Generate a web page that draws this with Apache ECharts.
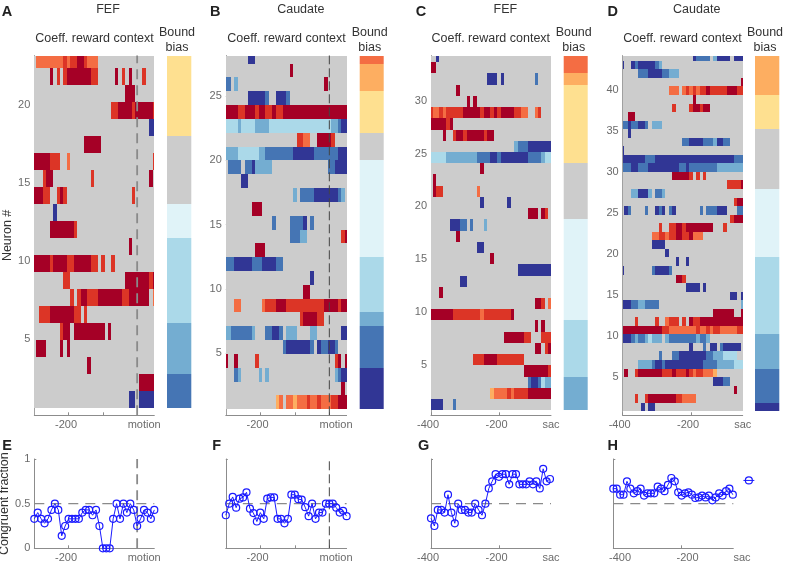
<!DOCTYPE html>
<html><head><meta charset="utf-8">
<style>html,body{margin:0;padding:0;background:#fff}#c{width:785px;height:565px}</style>
<script src="https://cdn.jsdelivr.net/npm/echarts@6/dist/echarts.min.js"></script>
</head><body><div id="c"></div>
<script>
const B1=0,B2=1,B3=2,B4=3,B5=4,G=5,Y1=6,Y2=7,R1=8,R2=9,R3=10;
const palette=['#313695','#4575b4','#74add1','#abd9e9','#e0f3f8','#cccccc','#fee090','#fdae61','#f46d43','#dc3526','#a50026'];

// each list item = one neuron row (bottom row first): [startMs, endMs, colourClass]
const rowsA=[
[[-25,-5,B1],[5,50,B1]],
[[5,50,R3]],
[[-145,-135,R3]],
[[-295,-265,R3],[-225,-215,R3],[-205,-195,R3]],
[[-225,-215,R2],[-215,-195,R3],[-185,-95,R3],[-85,-75,R3]],
[[-285,-255,R2],[-255,-185,R3],[-185,-165,R2],[-155,-145,R2]],
[[-195,-185,R2],[-175,-165,R2],[-165,-145,R3],[-145,-115,R2],[-115,-45,R3],[-45,-25,R2],[-25,35,R3],[45,50,R1]],
[[-215,-195,R2],[-35,35,R3],[35,45,R2],[45,50,R3]],
[[-300,-255,R3],[-255,-245,R2],[-245,-205,R3],[-205,-185,R2],[-185,-135,R3],[-135,-115,R2],[-105,-95,R2],[-75,-65,R2]],
[[-25,-15,R3]],
[[-255,-185,R3],[-185,-175,R2]],
[[-245,-235,B1]],
[[-300,-275,R3],[-275,-255,R2],[-235,-225,R2],[-225,-215,R3],[-215,-205,R2],[-15,-5,R2]],
[[-275,-265,R2],[-265,-245,R3],[-135,-125,R2],[35,45,R3]],
[[-300,-255,R3],[-255,-225,R2],[-205,-195,R1],[45,50,R2]],
[[-155,-105,R3]],
[[35,50,B1]],
[[-75,-55,R2],[-55,-15,R3],[-15,-5,R2],[-5,45,R3],[45,50,R2]],
[[-35,-5,R3]],
[[-255,-245,R3],[-235,-225,R2],[-215,-205,R2],[-205,-135,R3],[-135,-115,R2],[-65,-55,R3],[-45,-35,R2],[-25,-15,R3],[15,25,R2]],
[[-295,-215,R1],[-215,-205,R2],[-205,-195,R1],[-195,-175,R2],[-175,-155,R3],[-155,-145,R2],[-145,-115,R1]]
];
const rowsB=[
[[-155,-145,Y2],[-145,-135,R1],[-125,-105,R1],[-105,-95,Y2],[-95,-65,R1],[-65,-55,R2],[-55,-35,R1],[-35,-25,R2],[-25,5,R1],[5,25,R2],[25,50,R3]],
[[35,45,R3]],
[[-275,-265,B2],[-265,-255,B3],[-205,-195,B3],[-185,-175,B3],[15,25,B3],[25,35,B2],[35,50,B1]],
[[-300,-295,R3],[-275,-265,R3],[-215,-205,R2],[15,25,R2],[25,35,R3],[45,50,R3]],
[[-135,-125,B2],[-125,-55,B1],[-55,-45,B2],[-35,-25,B1],[-25,-5,B2],[-5,15,B1],[15,25,B2]],
[[-300,-285,B3],[-285,-225,B2],[-225,-215,B3],[-185,-165,B2],[-165,-145,B1],[-145,-135,B2],[-125,-95,B3],[-55,-35,B3],[35,50,B1]],
[[-85,-75,R2],[-75,-35,R3],[-35,-15,R2]],
[[-275,-255,R1],[-195,-185,R1],[-185,-155,R2],[-155,-125,R3],[-125,-15,R2],[-15,25,R3],[25,35,R2],[35,50,R3]],
[[-75,-55,R3]],
[[-55,-45,B1]],
[[-300,-275,B2],[-275,-225,B1],[-225,-195,B2],[-195,-155,B1],[-155,-135,B2]],
[[-215,-185,R3]],
[[-115,-85,B2],[-85,-65,B3],[35,45,R2],[45,50,R3]],
[[-165,-155,B2],[-115,-75,B2],[-75,-65,B1],[-55,-45,B2]],
[[-225,-195,R3]],
[[-105,-95,B3],[-85,-45,B2],[-45,25,B1],[25,35,B2],[35,45,B3]],
[[-255,-235,B1]],
[[-295,-255,B2],[-245,-225,B2],[-225,-215,B1],[-215,-165,B3],[-5,15,B2],[15,50,B1]],
[[-300,-265,B3],[-265,-205,B4],[-205,-185,B3],[-185,-105,B2],[-105,-45,B1],[-45,25,B2],[25,50,B1]],
[[-95,-75,R2],[-75,-55,R1],[-35,5,R3],[5,15,R2]],
[[-300,-265,B4],[-265,-255,B3],[-255,-215,B4],[-215,-175,B3],[-175,5,B4],[5,25,B3],[25,35,B2],[35,50,B1]],
[[-300,-265,R3],[-265,-245,R2],[-245,-215,R3],[-215,-205,R2],[-205,-185,R3],[-185,-165,R2],[-165,-155,R3],[-155,-135,R2],[-135,50,R3]],
[[-235,-185,B1],[-185,-175,B2],[-155,-125,B1],[-125,-115,B2]],
[[-300,-285,B2],[-275,-265,B3],[-15,-5,R3]],
[[-115,-105,R3]],
[[-235,-215,B1]]
];
const rowsC=[
[[-400,-365,B1],[-335,-325,B2]],
[[-225,-215,Y2],[-215,-175,R1],[-175,-165,R2],[-165,-155,R1],[-155,-115,R2],[-115,-47,R3]],
[[-115,-105,B2],[-105,-85,B1],[-85,-75,B2],[-75,-65,B4],[-65,-47,B3]],
[[-125,-55,R3],[-55,-47,R2]],
[[-275,-245,R2],[-245,-205,R3],[-205,-125,R2]],
[[-95,-75,R3],[-65,-55,R2],[-55,-47,R3]],
[[-185,-125,R3],[-125,-105,R2],[-75,-47,R2]],
[[-95,-85,R3],[-75,-65,R3]],
[[-400,-335,R3],[-335,-255,R2],[-255,-245,R1],[-245,-165,R2],[-165,-155,R3]],
[[-95,-75,R3],[-75,-65,R2],[-55,-47,R1]],
[[-375,-365,R3]],
[[-315,-295,B1]],
[[-145,-47,B1]],
[[-225,-215,R3]],
[[-265,-245,B1]],
[[-325,-315,R3]],
[[-345,-315,B1],[-315,-295,B2],[-285,-275,B2],[-245,-235,B3]],
[[-115,-85,R3],[-75,-65,R3],[-65,-55,R2]],
[[-255,-245,B1],[-175,-165,B1]],
[[-395,-385,R3],[-385,-365,R2],[-265,-255,R1]],
[[-395,-385,R3]],
[[-255,-245,R3]],
[[-400,-355,B4],[-355,-265,B3],[-265,-225,B2],[-225,-205,B1],[-205,-195,B2],[-195,-115,B1],[-115,-75,B2],[-75,-65,B3],[-65,-47,B4]],
[[-155,-145,B3],[-145,-115,B2],[-115,-47,B1]],
[[-365,-355,R3],[-335,-325,R2],[-325,-305,R3],[-305,-295,R2],[-295,-245,R3],[-245,-235,R2],[-235,-215,R3]],
[[-400,-355,R3],[-355,-345,R2],[-345,-335,R3]],
[[-400,-395,R2],[-395,-375,R1],[-375,-365,R2],[-365,-355,R1],[-355,-305,R2],[-305,-255,R3],[-255,-245,R2],[-245,-225,R3],[-225,-215,R2],[-215,-205,R3],[-205,-195,R2],[-195,-155,R3],[-155,-135,R2],[-135,-115,R1],[-95,-85,R1],[-85,-75,R2]],
[[-295,-285,R3],[-275,-265,R3]],
[[-325,-315,R3]],
[[-235,-205,B1],[-195,-185,B1],[-95,-85,B2]],
[[-400,-385,R3]],
[[-385,-375,B1]]
];
const rowsD=[
[[-345,-335,B1],[-325,-305,B1]],
[[-365,-355,R2],[-335,-325,R2],[-325,-245,R3],[-245,-225,R2],[-225,-185,R1]],
[[-75,-65,R3]],
[[-135,-105,B1],[-105,-85,B2]],
[[-395,-385,R3],[-365,-355,R2],[-355,-285,R3],[-285,-255,R2],[-255,-245,R3],[-245,-215,R2],[-215,-205,R3],[-205,-195,R2],[-195,-185,R1],[-185,-165,R2],[-165,-135,R1],[-135,-125,Y2]],
[[-355,-315,B3],[-315,-305,B2],[-305,-285,B1],[-285,-275,B2],[-275,-165,B1],[-165,-125,B2],[-125,-75,B3],[-75,-45,B4]],
[[-295,-285,B2],[-255,-235,B2],[-235,-155,B1],[-155,-135,B2],[-135,-105,B3],[-105,-65,B4]],
[[-205,-195,B1],[-165,-155,B2],[-145,-125,B1],[-115,-105,B2],[-105,-55,B1]],
[[-405,-375,B1],[-375,-365,B2],[-365,-355,B3],[-355,-335,B2],[-335,-325,B3],[-325,-315,B4],[-315,-285,B3],[-275,-265,B3],[-265,-185,B2],[-185,-175,B3],[-175,-155,B2],[-155,-145,B3]],
[[-405,-285,R3],[-285,-265,R2],[-265,-185,R1],[-185,-175,R2],[-175,-155,R1],[-155,-145,R2],[-145,-135,R1],[-135,-115,R2],[-115,-65,R1],[-65,-45,R2]],
[[-365,-355,R2],[-305,-295,R2],[-275,-265,R1],[-265,-235,R2],[-225,-215,R2],[-205,-195,R3],[-195,-175,R2],[-175,-45,R3]],
[[-135,-75,R3],[-55,-45,R3]],
[[-405,-375,B1],[-375,-355,B2],[-355,-335,B3],[-335,-295,B2],[-55,-45,B3]],
[[-85,-65,B1],[-55,-45,B1]],
[[-215,-175,B1],[-165,-155,B1]],
[[-245,-225,R3],[-225,-215,R2]],
[[-405,-395,B1],[-315,-305,B2],[-305,-265,B1],[-265,-255,B2]],
[[-245,-235,B1],[-215,-205,B1]],
[[-275,-265,B1]],
[[-315,-275,B1]],
[[-315,-295,R1],[-295,-275,R2],[-275,-265,R1],[-265,-245,R2],[-245,-225,R3],[-225,-205,R2],[-205,-195,R3],[-195,-165,R1]],
[[-295,-285,R2],[-265,-245,R2],[-245,-225,R3],[-225,-215,R2],[-215,-135,R3],[-105,-95,R2]],
[[-85,-75,R2],[-75,-45,R3]],
[[-395,-385,B1],[-385,-375,B2],[-335,-325,B2],[-305,-295,B1],[-295,-285,B2],[-285,-275,B1],[-265,-255,B2],[-255,-245,B1],[-175,-165,B2],[-155,-125,B2],[-125,-95,B1],[-65,-45,B2]],
[[-75,-65,R2],[-65,-45,R3]],
[[-375,-355,B3],[-355,-325,B1],[-325,-315,B3],[-305,-285,B2],[-285,-275,B3]],
[[-95,-55,R2],[-55,-45,R3]],
[[-255,-205,R3],[-205,-195,R2],[-185,-175,R2],[-165,-155,R2]],
[[-405,-375,B2],[-375,-355,B1],[-355,-325,B2],[-325,-235,B1],[-235,-215,B2],[-215,-205,B1],[-205,-125,B2],[-125,-45,B3]],
[[-405,-335,B1],[-335,-305,B2],[-305,-75,B1],[-75,-45,B2]],
[[-405,-395,B1]],
[[-225,-205,B2],[-205,-165,B1],[-165,-135,B2],[-135,-125,B3],[-125,-105,B1],[-105,-85,B2]],
[[-385,-375,B1]],
[[-405,-385,B2],[-385,-375,B1],[-375,-355,B2],[-355,-335,B1],[-335,-325,B2],[-315,-285,B3]],
[[-385,-365,R3]],
[[-255,-245,R2],[-205,-195,R2],[-195,-175,R3],[-175,-165,R2],[-165,-145,R3]],
[[-195,-185,R3]],
[[-265,-235,R1],[-225,-215,R1],[-215,-205,R2],[-205,-195,R1],[-195,-185,R2],[-185,-175,R1],[-175,-155,R2],[-155,-145,R3],[-145,-95,R2],[-95,-65,R3],[-65,-45,R2]],
[[-55,-45,R3]],
[[-355,-325,B2],[-325,-285,B1],[-285,-265,B2],[-265,-235,B3]],
[[-405,-395,B1],[-375,-365,B1],[-365,-355,B2],[-355,-305,B1],[-305,-295,B2],[-295,-285,B3]],
[[-195,-185,B1],[-185,-145,B2],[-135,-125,B3],[-125,-85,B1],[-75,-45,B1]]
];

// bound-bias colour bars: [fromRow, toRow, colourClass]
const biasA=[[0,2,B2],[2,5,B3],[5,10,B4],[10,12,B5],[12,16,G],[16,21,Y1]];
const biasB=[[0,3,B1],[3,6,B2],[6,7,B3],[7,11,B4],[11,18,B5],[18,20,G],[20,23,Y1],[23,25,Y2],[25,26,R1]];
const biasC=[[0,3,B3],[3,8,B4],[8,17,B5],[17,22,G],[22,29,Y1],[29,30,Y2],[30,32,R1]];
const biasD=[[0,1,B1],[1,5,B2],[5,9,B3],[9,18,B4],[18,26,B5],[26,33,G],[33,37,Y1],[37,42,Y2]];

// congruent fraction, one value per 10 ms bin
const fracE=[.33,.40,.33,.28,.33,.43,.5,.43,.14,.25,.33,.33,.33,.33,.40,.43,.43,.37,.43,.25,0,0,0,.33,.5,.33,.5,.40,.5,.43,.25,.33,.43,.40,.33,.43];
const fracF=[.37,.5,.575,.455,.556,.57,.627,.444,.395,.30,.40,.33,.556,.57,.57,.33,.33,.28,.33,.60,.60,.55,.545,.46,.36,.5,.33,.40,.40,.5,.5,.5,.455,.40,.42,.36];
const fracG=[.336,.25,.43,.43,.40,.60,.40,.28,.5,.43,.43,.40,.40,.5,.43,.37,.5,.67,.75,.83,.80,.83,.83,.716,.83,.83,.716,.716,.716,.75,.716,.75,.67,.89,.75,.776];
const fracH=[.668,.668,.60,.60,.75,.668,.616,.64,.668,.59,.616,.616,.616,.69,.668,.64,.71,.787,.75,.627,.59,.616,.627,.60,.563,.57,.59,.57,.59,.537,.57,.616,.59,.64,.668,.60];
const extraH=[-3,.76];
const extraHWhisker=[-19,13];

const panels=[
 {rows:rowsA,bias:biasA,frac:fracE,letter:'A',low:'E',area:'FEF',xMin:-300,xMax:50,left:34.3,width:120,leftL:34.3,widthL:120,rowH:17,rowBase:407.7,p5:339,perN:15.6,ticks:[-200,-100,0],
  labels:{'-200':['-200',-2.5],'0':['motion',7]},labelsL:{'-200':['-200',-2.5],'0':['motion',7]},bx:167,bw:24.3,
  cTitle:108,cCoeff:94.5,cBound:177,xLetter:7,xLow:7,ref:{color:'#8a8a8a',width:1.8,dash:[10,6]}},
 {rows:rowsB,bias:biasB,frac:fracF,letter:'B',low:'F',area:'Caudate',xMin:-300,xMax:50,left:225.8,width:120.8,leftL:225.8,widthL:120.8,rowH:13.83,rowBase:409.3,p5:353,perN:12.84,ticks:[-200,-100,0],
  labels:{'-200':['-200',-2.8],'0':['motion',6.7]},labelsL:{'-200':['-200',-2.8],'0':['motion',6.7]},bx:359.7,bw:24,
  cTitle:300.8,cCoeff:286.5,cBound:369.7,xLetter:215.3,xLow:216.7,ref:{color:'#444',width:1,dash:[9,4]}},
 {rows:rowsC,bias:biasC,frac:fracG,letter:'C',low:'G',area:'FEF',xMin:-400,xMax:-47,left:431,width:120,leftL:431,widthL:120,rowH:11.23,rowBase:410.3,p5:364.7,perN:10.56,ticks:[-400,-200],
  labels:{'-400':['-400',-3],'-200':['-200',-2.5],'-47':['sac',0]},labelsL:{'-400':['-400',-3],'-200':['-200',-2.5],'-47':['sac',0]},bx:563.7,bw:24,
  cTitle:505.3,cCoeff:490.8,cBound:573.7,xLetter:421,xLow:423.7,ref:null},
 {rows:rowsD,bias:biasD,frac:fracH,letter:'D',low:'H',area:'Caudate',xMin:-400,xMax:-48.6,left:622.7,width:120,leftL:613.3,widthL:120,rowH:8.55,rowBase:411.3,p5:376.7,perN:8.19,ticks:[-400,-200],
  labels:{'-400':['-400',-3],'-200':['-200',-3],'-48.6':['sac',0]},labelsL:{'-400':['-400',6.7],'-200':['-200',6],'-48.6':['sac',8.7]},bx:755,bw:24.3,
  cTitle:696.7,cCoeff:682.5,cBound:765,xLetter:612.7,xLow:612.7,ref:null}
];
const HEAT_TOP=55.5,HEAT_BOT=415.3,LINE_TOP=459,LINE_BOT=548.3;
const AXIS='#8c8c8c',TXT='#6b6b6b',DARK='#333',FONT='"Liberation Sans",Arial,sans-serif',BLUE='#1a1aff';
const grid=[],xAxis=[],yAxis=[],series=[],title=[];

function renderSeg(params,api){
  const x0=api.coord([api.value(1),0])[0],x1=api.coord([api.value(2),0])[0];
  const y1=api.coord([0,api.value(0)])[1],y0=api.coord([0,api.value(0)+1])[1];
  const cs=params.coordSys;
  const r=echarts.graphic.clipRectByRect({x:x0,y:y0,width:x1-x0,height:y1-y0},{x:cs.x,y:cs.y,width:cs.width,height:cs.height});
  if(!r)return;
  const xa=Math.round(r.x),xb=Math.round(r.x+r.width),ya=Math.round(r.y),yb=Math.round(r.y+r.height);
  return {type:'rect',shape:{x:xa,y:ya,width:xb-xa,height:yb-ya},style:{fill:palette[api.value(3)]}};
}
function renderBias(params,api){
  const cs=params.coordSys;
  const y1=api.coord([0,api.value(0)])[1],y0=api.coord([0,api.value(1)])[1];
  const r=echarts.graphic.clipRectByRect({x:cs.x,y:y0,width:cs.width,height:y1-y0},{x:cs.x,y:cs.y,width:cs.width,height:cs.height});
  if(!r)return;
  const ya=Math.round(r.y),yb=Math.round(r.y+r.height);
  return {type:'rect',shape:{x:r.x,y:ya,width:r.width,height:yb-ya},style:{fill:palette[api.value(2)]}};
}
function richLabels(map){
  const rich={};Object.keys(map).forEach((k,i)=>{const s=map[k][1];
    rich['t'+i]={fontSize:11,fontFamily:FONT,color:TXT,padding:s>=0?[0,0,0,2*s]:[0,-2*s,0,0]};});
  return {rich,formatter:v=>{const keys=Object.keys(map);const i=keys.findIndex(k=>Math.abs(+k-v)<.01);return i<0?'':'{t'+i+'|'+map[keys[i]][0]+'}';}};
}
function addTitle(text,x,y,opt){
  title.push({text,left:x,top:y,padding:0,textAlign:'center',textVerticalAlign:'middle',textStyle:Object.assign({fontFamily:FONT,fontSize:12.5,fontWeight:'normal',color:DARK},opt||{})});
}
function xAx(p,g,labels){
  const keys=Object.keys(labels).map(Number);const r=richLabels(labels);
  return {type:'value',gridIndex:g,min:p.xMin,max:p.xMax,splitLine:{show:false},
    axisLine:{show:true,onZero:false,lineStyle:{color:AXIS,width:1}},
    axisTick:{show:true,inside:true,length:3,lineStyle:{color:AXIS},customValues:p.ticks},
    axisLabel:{show:true,margin:4,customValues:keys,hideOverlap:false,formatter:r.formatter,rich:r.rich}};
}
panels.forEach((p,i)=>{
  // heat map grid
  let g=grid.length;
  grid.push({left:p.left,width:p.width,top:HEAT_TOP,height:HEAT_BOT-HEAT_TOP,show:false,outerBoundsMode:'none',containLabel:false});
  const nMin=5-(HEAT_BOT-p.p5)/p.perN,nMax=5+(p.p5-HEAT_TOP)/p.perN;
  const rMin=-(HEAT_BOT-p.rowBase)/p.rowH,rMax=(p.rowBase-HEAT_TOP)/p.rowH;
  const hx=xAxis.length;xAxis.push(xAx(p,g,p.labels));
  const ny=yAxis.length;
  const ticksN=[5,10,15,20,25,30,35,40].filter(v=>v<nMax);
  yAxis.push({type:'value',gridIndex:g,min:nMin,max:nMax,splitLine:{show:false},
    name:i===0?'Neuron #':'',nameLocation:'middle',nameGap:19.5,nameTextStyle:{fontFamily:FONT,fontSize:12.5,color:DARK},
    axisLine:{show:true,onZero:false,lineStyle:{color:'#a0a0a0'}},axisTick:{show:true,inside:true,length:2,customValues:ticksN,lineStyle:{color:'#a0a0a0'}},
    axisLabel:{show:true,margin:4,customValues:ticksN,color:TXT,fontFamily:FONT,fontSize:11}});
  const ry=yAxis.length;
  yAxis.push({type:'value',gridIndex:g,min:rMin,max:rMax,show:false,splitLine:{show:false}});
  const seg=[];p.rows.forEach((list,r)=>list.forEach(s=>seg.push([r,s[0],s[1],s[2]])));
  const bgRows=[[0,p.rows.length]];
  series.push({type:'custom',xAxisIndex:hx,yAxisIndex:ry,clip:false,silent:true,z:1,data:bgRows,renderItem:(params,api)=>{
    const cs=params.coordSys;const y1=api.coord([p.xMin,api.value(0)])[1];
    return {type:'rect',shape:{x:Math.round(cs.x),y:Math.round(cs.y),width:Math.round(cs.x+cs.width)-Math.round(cs.x),height:Math.round(y1)-Math.round(cs.y)},style:{fill:palette[G]}};
  },encode:{x:[],y:[0,1]}});
  series.push({type:'custom',xAxisIndex:hx,yAxisIndex:ry,silent:true,z:2,data:seg,renderItem:renderSeg,encode:{y:0,x:[1,2]}});
  if(p.ref){
    series.push({type:'line',xAxisIndex:hx,yAxisIndex:ny,z:5,silent:true,symbol:'none',data:[[0,nMin],[0,nMax]],lineStyle:{color:p.ref.color,width:p.ref.width,type:p.ref.dash}});
  }
  // bias bar
  g=grid.length;
  grid.push({left:p.bx,width:p.bw,top:HEAT_TOP,height:HEAT_BOT-HEAT_TOP,show:false,outerBoundsMode:'none',containLabel:false});
  const bx=xAxis.length;xAxis.push({type:'value',gridIndex:g,min:0,max:1,show:false,splitLine:{show:false}});
  const by=yAxis.length;yAxis.push({type:'value',gridIndex:g,min:rMin,max:rMax,show:false,splitLine:{show:false}});
  series.push({type:'custom',xAxisIndex:bx,yAxisIndex:by,silent:true,data:p.bias,renderItem:renderBias,encode:{y:[0,1]}});
  // congruent fraction
  g=grid.length;
  grid.push({left:p.leftL,width:p.widthL,top:LINE_TOP,height:LINE_BOT-LINE_TOP,show:false,outerBoundsMode:'none',containLabel:false});
  const lx=xAxis.length;xAxis.push(xAx(p,g,p.labelsL));
  const ly=yAxis.length;
  yAxis.push({type:'value',gridIndex:g,min:0,max:1,splitLine:{show:false},
    name:i===0?'Congruent fraction':'',nameLocation:'middle',nameGap:19.5,nameTextStyle:{fontFamily:FONT,fontSize:12.5,color:DARK},
    axisLine:{show:true,onZero:false,lineStyle:{color:AXIS,width:1}},axisTick:{show:true,inside:true,length:2,customValues:[0,.5,1],lineStyle:{color:AXIS}},
    axisLabel:{show:i===0,margin:4,customValues:[0,.5,1],color:TXT,fontFamily:FONT,fontSize:11,formatter:v=>String(v)}});
  series.push({type:'line',xAxisIndex:lx,yAxisIndex:ly,z:3,silent:true,symbol:'none',data:[[p.xMin,.5],[p.xMax,.5]],lineStyle:{color:'#8a8a8a',width:1.3,type:[10,7]}});
  if(p.ref){
    series.push({type:'line',xAxisIndex:lx,yAxisIndex:ly,z:3,silent:true,symbol:'none',data:[[0,0],[0,1]],lineStyle:{color:p.ref.color,width:p.ref.width,type:p.ref.dash}});
  }
  series.push({type:'line',xAxisIndex:lx,yAxisIndex:ly,z:4,silent:true,clip:false,symbol:'circle',symbolSize:7,showAllSymbol:true,
    data:p.frac.map((v,k)=>[p.xMin+10*k,v]),lineStyle:{color:BLUE,width:1},itemStyle:{color:'transparent',borderColor:BLUE,borderWidth:1.2}});
  if(i===3){
    series.push({type:'line',xAxisIndex:lx,yAxisIndex:ly,z:4,silent:true,clip:false,symbol:'circle',symbolSize:7,showAllSymbol:true,
      data:[extraH],lineStyle:{color:BLUE,width:1},itemStyle:{color:'transparent',borderColor:BLUE,borderWidth:1.2}});
    series.push({type:'custom',xAxisIndex:lx,yAxisIndex:ly,z:4,silent:true,clip:false,data:[[extraHWhisker[0],extraHWhisker[1],extraH[1]]],encode:{x:[0,1],y:2},
      renderItem:(params,api)=>{
        const a=api.coord([api.value(0),api.value(2)]),b=api.coord([api.value(1),api.value(2)]);
        return {type:'line',shape:{x1:a[0],y1:a[1],x2:b[0],y2:b[1]},style:{stroke:BLUE,lineWidth:1}};
      }});
  }
  // text
  addTitle(p.area,p.cTitle,10);
  addTitle('Coeff. reward context',p.cCoeff,39);
  addTitle('Bound',p.cBound,32.5);
  addTitle('bias',p.cBound,47.5);
  addTitle(p.letter,p.xLetter,12,{fontSize:14.5,fontWeight:'bold',color:'#222'});
  addTitle(p.low,p.xLow,446,{fontSize:14.5,fontWeight:'bold',color:'#222'});
});
const chart=echarts.init(document.getElementById('c'),null,{renderer:'canvas'});
chart.setOption({animation:false,backgroundColor:'#fff',title,grid,xAxis,yAxis,series});
</script></body></html>
